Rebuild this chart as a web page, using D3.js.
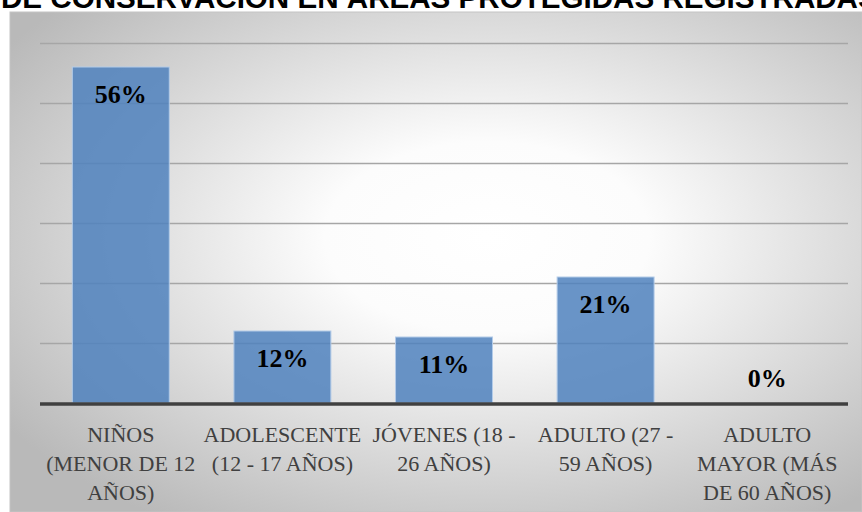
<!DOCTYPE html>
<html>
<head>
<meta charset="utf-8">
<script src="https://cdn.jsdelivr.net/npm/d3@7"></script>
<style>
  body { margin: 0; background: #fff; }
  svg { display: block; }
</style>
</head>
<body>
<svg id="chart" width="862" height="512"></svg>
<script>
// datos del gráfico
const titulo = "DE CONSERVACIÓN EN ÁREAS PROTEGIDAS REGISTRADAS";
const categorias = [
  ["NIÑOS", "(MENOR DE 12", "AÑOS)"],
  ["ADOLESCENTE", "(12 - 17 AÑOS)"],
  ["JÓVENES (18 -", "26 AÑOS)"],
  ["ADULTO (27 -", "59 AÑOS)"],
  ["ADULTO", "MAYOR (MÁS", "DE 60 AÑOS)"]
];
const valores = [56, 12, 11, 21, 0];
const ticks = [0, 10, 20, 30, 40, 50, 60];

const svg = d3.select("#chart");
const width = +svg.attr("width");
const height = +svg.attr("height");
const margin = {top: 43, right: 14, bottom: 109, left: 40};

// fondo con degradado radial
const defs = svg.append("defs");
const grad = defs.append("radialGradient")
  .attr("id", "fondo")
  .attr("cx", "56%").attr("cy", "45%").attr("r", "68%");
grad.append("stop").attr("offset", "0%").attr("stop-color", "#ffffff");
grad.append("stop").attr("offset", "28%").attr("stop-color", "#fcfcfc");
grad.append("stop").attr("offset", "100%").attr("stop-color", "#b9b9b9");

svg.append("rect")
  .attr("x", 10).attr("y", 12)
  .attr("width", width - 10).attr("height", height - 12)
  .attr("fill", "url(#fondo)")
  .attr("stroke", "#c4c4c4");

// título (cortado arriba, como en la imagen)
const t = svg.append("text")
  .attr("x", 1).attr("y", 8)
  .attr("font-family", "Liberation Sans, Arial, sans-serif")
  .attr("font-weight", "bold")
  .attr("font-size", 30)
  .attr("fill", "#000")
  .text(titulo.slice(0, -1));
const wParcial = t.node().getComputedTextLength();
t.text(titulo);
const wTotal = t.node().getComputedTextLength();
t.attr("textLength", wTotal * 857 / wParcial).attr("lengthAdjust", "spacingAndGlyphs");

const x = d3.scaleBand()
  .domain(d3.range(categorias.length))
  .range([margin.left, width - margin.right])
  .paddingInner(0.4)
  .paddingOuter(0.2);

const y = d3.scaleLinear()
  .domain([0, 60])
  .range([height - margin.bottom, margin.top]);

// líneas de cuadrícula
svg.append("g")
  .selectAll("line")
  .data(ticks.slice(1))
  .join("line")
  .attr("x1", margin.left)
  .attr("x2", width - margin.right)
  .attr("y1", d => Math.round(y(d)) + 0.5)
  .attr("y2", d => Math.round(y(d)) + 0.5)
  .attr("stroke", "#a6a6a6")
  .attr("stroke-width", 1.3);

// barras
svg.selectAll(".bar")
  .data(valores)
  .join("rect")
  .attr("class", "bar")
  .attr("x", (d, i) => x(i))
  .attr("y", d => y(d))
  .attr("width", x.bandwidth())
  .attr("height", d => y(0) - y(d))
  .attr("fill", "#4f81bd")
  .attr("fill-opacity", 0.85)
  .attr("stroke", "#b3cbe8")
  .attr("stroke-width", d => d > 0 ? 1 : 0);

// eje base
svg.append("line")
  .attr("x1", margin.left)
  .attr("x2", width - margin.right)
  .attr("y1", y(0) + 1)
  .attr("y2", y(0) + 1)
  .attr("stroke", "#404040")
  .attr("stroke-width", 3.5);

// etiquetas de valor
svg.selectAll(".label")
  .data(valores)
  .join("text")
  .attr("class", "label")
  .attr("x", (d, i) => x(i) + x.bandwidth() / 2)
  .attr("y", d => d > 3 ? y(d) + 36 : y(0) - 16)
  .attr("text-anchor", "middle")
  .attr("font-family", "Liberation Serif, serif")
  .attr("font-weight", "bold")
  .attr("font-size", 26)
  .attr("fill", "#000")
  .text(d => d + "%");

// etiquetas de categoría
const cat = svg.selectAll(".cat")
  .data(categorias)
  .join("text")
  .attr("class", "cat")
  .attr("text-anchor", "middle")
  .attr("font-family", "Liberation Serif, serif")
  .attr("font-size", 22)
  .attr("fill", "#404040");

cat.selectAll("tspan")
  .data((d, i) => d.map(l => ({l, i})))
  .join("tspan")
  .attr("x", d => x(d.i) + x.bandwidth() / 2)
  .attr("y", (d, j) => 442 + j * 29)
  .text(d => d.l);
</script>
</body>
</html>
